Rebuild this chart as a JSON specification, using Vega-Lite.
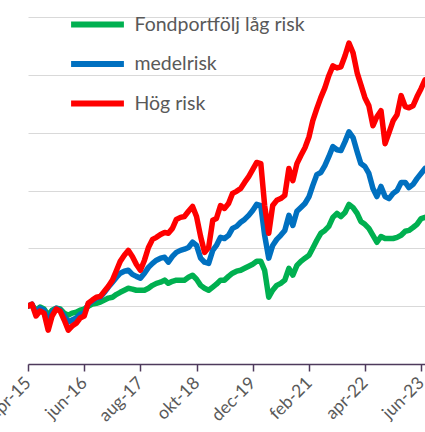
{
  "$schema": "https://vega.github.io/schema/vega-lite/v6.json",
  "width": 397,
  "height": 347,
  "autosize": {"type": "none"},
  "padding": {"left": 28, "top": 17, "right": 0, "bottom": 68},
  "background": "white",
  "config": {"view": {"stroke": null}, "font": "Lato"},
  "data": {
    "values": [
      {"d":"2015-04-01","low":100.0,"mid":100.0,"high":100.0},
      {"d":"2015-05-01","low":100.3,"mid":100.7,"high":100.7},
      {"d":"2015-06-01","low":98.6,"mid":97.6,"high":96.6},
      {"d":"2015-07-01","low":99.7,"mid":99.3,"high":98.3},
      {"d":"2015-08-01","low":99.0,"mid":98.6,"high":97.6},
      {"d":"2015-09-01","low":96.9,"mid":94.5,"high":91.7},
      {"d":"2015-10-01","low":98.6,"mid":97.9,"high":96.6},
      {"d":"2015-11-01","low":99.3,"mid":99.3,"high":99.0},
      {"d":"2015-12-01","low":99.0,"mid":98.6,"high":98.3},
      {"d":"2016-01-01","low":97.6,"mid":96.6,"high":95.2},
      {"d":"2016-02-01","low":96.9,"mid":94.5,"high":91.7},
      {"d":"2016-03-01","low":97.6,"mid":95.2,"high":93.1},
      {"d":"2016-04-01","low":97.9,"mid":95.9,"high":94.1},
      {"d":"2016-05-01","low":98.6,"mid":97.2,"high":95.9},
      {"d":"2016-06-01","low":99.0,"mid":97.6,"high":96.6},
      {"d":"2016-07-01","low":100.0,"mid":100.7,"high":101.0},
      {"d":"2016-08-01","low":100.7,"mid":101.7,"high":102.1},
      {"d":"2016-09-01","low":101.0,"mid":102.8,"high":103.1},
      {"d":"2016-10-01","low":101.4,"mid":103.1,"high":103.4},
      {"d":"2016-11-01","low":102.1,"mid":104.8,"high":105.2},
      {"d":"2016-12-01","low":102.8,"mid":106.6,"high":106.9},
      {"d":"2017-01-01","low":103.1,"mid":108.3,"high":109.0},
      {"d":"2017-02-01","low":104.1,"mid":110.0,"high":112.4},
      {"d":"2017-03-01","low":104.8,"mid":111.4,"high":115.5},
      {"d":"2017-04-01","low":105.5,"mid":112.1,"high":117.6},
      {"d":"2017-05-01","low":106.2,"mid":112.4,"high":119.3},
      {"d":"2017-06-01","low":105.9,"mid":111.0,"high":117.2},
      {"d":"2017-07-01","low":105.5,"mid":110.3,"high":114.5},
      {"d":"2017-08-01","low":105.5,"mid":109.7,"high":112.4},
      {"d":"2017-09-01","low":105.5,"mid":111.4,"high":115.9},
      {"d":"2017-10-01","low":106.2,"mid":113.4,"high":120.3},
      {"d":"2017-11-01","low":107.2,"mid":114.8,"high":123.1},
      {"d":"2017-12-01","low":107.9,"mid":115.9,"high":123.8},
      {"d":"2018-01-01","low":108.3,"mid":116.6,"high":124.8},
      {"d":"2018-02-01","low":109.0,"mid":116.9,"high":125.5},
      {"d":"2018-03-01","low":107.9,"mid":115.2,"high":125.2},
      {"d":"2018-04-01","low":108.6,"mid":117.2,"high":126.9},
      {"d":"2018-05-01","low":109.0,"mid":118.6,"high":130.0},
      {"d":"2018-06-01","low":109.0,"mid":119.3,"high":130.7},
      {"d":"2018-07-01","low":109.0,"mid":119.7,"high":131.0},
      {"d":"2018-08-01","low":110.0,"mid":120.3,"high":132.8},
      {"d":"2018-09-01","low":110.7,"mid":122.1,"high":134.5},
      {"d":"2018-10-01","low":109.3,"mid":121.0,"high":131.0},
      {"d":"2018-11-01","low":107.2,"mid":116.6,"high":124.1},
      {"d":"2018-12-01","low":106.2,"mid":115.2,"high":118.6},
      {"d":"2019-01-01","low":105.5,"mid":114.8,"high":120.3},
      {"d":"2019-02-01","low":106.6,"mid":119.3,"high":129.7},
      {"d":"2019-03-01","low":107.6,"mid":121.0,"high":130.3},
      {"d":"2019-04-01","low":109.0,"mid":123.8,"high":134.8},
      {"d":"2019-05-01","low":109.0,"mid":123.4,"high":133.8},
      {"d":"2019-06-01","low":110.3,"mid":124.5,"high":135.5},
      {"d":"2019-07-01","low":111.4,"mid":126.9,"high":139.0},
      {"d":"2019-08-01","low":112.1,"mid":127.6,"high":139.7},
      {"d":"2019-09-01","low":112.4,"mid":129.0,"high":140.7},
      {"d":"2019-10-01","low":113.1,"mid":130.0,"high":142.8},
      {"d":"2019-11-01","low":113.8,"mid":131.4,"high":144.8},
      {"d":"2019-12-01","low":114.5,"mid":133.1,"high":147.2},
      {"d":"2020-01-01","low":115.5,"mid":135.2,"high":149.7},
      {"d":"2020-02-01","low":115.5,"mid":134.8,"high":149.3},
      {"d":"2020-03-01","low":112.4,"mid":124.5,"high":134.8},
      {"d":"2020-04-01","low":103.1,"mid":116.6,"high":125.2},
      {"d":"2020-05-01","low":105.5,"mid":121.0,"high":134.8},
      {"d":"2020-06-01","low":107.2,"mid":123.1,"high":136.6},
      {"d":"2020-07-01","low":107.9,"mid":124.5,"high":137.2},
      {"d":"2020-08-01","low":109.0,"mid":126.2,"high":138.3},
      {"d":"2020-09-01","low":113.1,"mid":131.4,"high":147.6},
      {"d":"2020-10-01","low":110.7,"mid":127.9,"high":143.4},
      {"d":"2020-11-01","low":114.1,"mid":132.8,"high":149.3},
      {"d":"2020-12-01","low":115.5,"mid":134.1,"high":152.1},
      {"d":"2021-01-01","low":116.6,"mid":135.5,"high":154.8},
      {"d":"2021-02-01","low":117.6,"mid":137.9,"high":158.6},
      {"d":"2021-03-01","low":120.0,"mid":141.7,"high":164.1},
      {"d":"2021-04-01","low":122.8,"mid":145.5,"high":168.3},
      {"d":"2021-05-01","low":125.2,"mid":146.2,"high":172.1},
      {"d":"2021-06-01","low":126.2,"mid":148.6,"high":175.5},
      {"d":"2021-07-01","low":127.6,"mid":151.7,"high":179.7},
      {"d":"2021-08-01","low":130.7,"mid":155.2,"high":183.1},
      {"d":"2021-09-01","low":132.1,"mid":154.1,"high":182.4},
      {"d":"2021-10-01","low":131.0,"mid":153.8,"high":182.8},
      {"d":"2021-11-01","low":132.4,"mid":156.9,"high":186.6},
      {"d":"2021-12-01","low":135.2,"mid":160.3,"high":191.0},
      {"d":"2022-01-01","low":134.1,"mid":158.3,"high":187.6},
      {"d":"2022-02-01","low":132.1,"mid":153.4,"high":180.7},
      {"d":"2022-03-01","low":129.3,"mid":149.3,"high":176.6},
      {"d":"2022-04-01","low":128.3,"mid":148.3,"high":172.1},
      {"d":"2022-05-01","low":126.9,"mid":145.9,"high":169.3},
      {"d":"2022-06-01","low":124.5,"mid":140.7,"high":162.4},
      {"d":"2022-07-01","low":122.1,"mid":137.9,"high":165.5},
      {"d":"2022-08-01","low":124.1,"mid":141.4,"high":167.6},
      {"d":"2022-09-01","low":123.4,"mid":137.9,"high":156.2},
      {"d":"2022-10-01","low":123.4,"mid":137.2,"high":160.0},
      {"d":"2022-11-01","low":123.4,"mid":139.0,"high":164.1},
      {"d":"2022-12-01","low":123.8,"mid":140.0,"high":166.2},
      {"d":"2023-01-01","low":124.5,"mid":142.8,"high":172.8},
      {"d":"2023-02-01","low":125.9,"mid":142.8,"high":169.0},
      {"d":"2023-03-01","low":126.2,"mid":141.0,"high":168.6},
      {"d":"2023-04-01","low":127.2,"mid":142.1,"high":169.3},
      {"d":"2023-05-01","low":128.3,"mid":144.1,"high":172.4},
      {"d":"2023-06-01","low":130.3,"mid":145.9,"high":175.2},
      {"d":"2023-07-01","low":130.7,"mid":147.6,"high":178.3}
    ]
  },
  "transform": [
    {"fold": ["low", "mid", "high"], "as": ["key", "v"]},
    {"lookup": "key", "from": {"data": {"values": [
      {"key": "low", "serie": "Fondportfölj låg risk"},
      {"key": "mid", "serie": "medelrisk"},
      {"key": "high", "serie": "Hög risk"}
    ]}, "key": "key", "fields": ["serie"]}}
  ],
  "mark": {"type": "line", "strokeWidth": 5.5, "strokeCap": "round", "strokeJoin": "round", "clip": true},
  "encoding": {
    "x": {
      "field": "d", "type": "temporal",
      "scale": {"type": "utc", "domain": [{"year": 2015, "month": 4, "date": 1, "utc": true}, {"year": 2023, "month": 7, "date": 1, "utc": true}]},
      "axis": {
        "title": null,
        "values": [
          {"year": 2015, "month": 4, "date": 1, "utc": true},
          {"year": 2016, "month": 6, "date": 1, "utc": true},
          {"year": 2017, "month": 8, "date": 1, "utc": true},
          {"year": 2018, "month": 10, "date": 1, "utc": true},
          {"year": 2019, "month": 12, "date": 1, "utc": true},
          {"year": 2021, "month": 2, "date": 1, "utc": true},
          {"year": 2022, "month": 4, "date": 1, "utc": true},
          {"year": 2023, "month": 6, "date": 1, "utc": true}
        ],
        "labelExpr": "['jan','feb','mar','apr','maj','jun','jul','aug','sep','okt','nov','dec'][utcmonth(datum.value)] + '-' + utcFormat(datum.value, '%y')",
        "labelAngle": -45,
        "labelAlign": "right",
        "labelBaseline": "middle",
        "labelFontSize": 17.5,
        "labelColor": "#595959",
        "labelPadding": 9,
        "labelFlush": false,
        "labelOverlap": false,
        "labelBound": false,
        "domainColor": "#4e3a5c",
        "domainWidth": 1.5,
        "tickColor": "#4e3a5c",
        "tickWidth": 1.5,
        "tickSize": 7,
        "grid": false
      }
    },
    "y": {
      "field": "v", "type": "quantitative",
      "scale": {"domain": [80, 200], "nice": false, "zero": false},
      "axis": {
        "title": null,
        "values": [80, 100, 120, 140, 160, 180, 200],
        "labels": false,
        "ticks": false,
        "domain": false,
        "grid": true,
        "gridColor": "#d9d9d9",
        "gridWidth": 1
      }
    },
    "color": {
      "field": "serie", "type": "nominal",
      "sort": ["Fondportfölj låg risk", "medelrisk", "Hög risk"],
      "scale": {"domain": ["Fondportfölj låg risk", "medelrisk", "Hög risk"], "range": ["#00b050", "#0070c0", "#ff0000"]},
      "legend": {
        "title": null,
        "orient": "none",
        "legendX": 57.5,
        "legendY": -4.5,
        "padding": 0,
        "symbolType": "M-3,0H3",
        "symbolSize": 310,
        "symbolStrokeWidth": 6,
        "symbolStrokeCap": "round",
        "labelFontSize": 19.5,
        "labelColor": "#595959",
        "labelOffset": 25,
        "rowPadding": 15.5,
        "labelLimit": 400
      }
    }
  }
}
